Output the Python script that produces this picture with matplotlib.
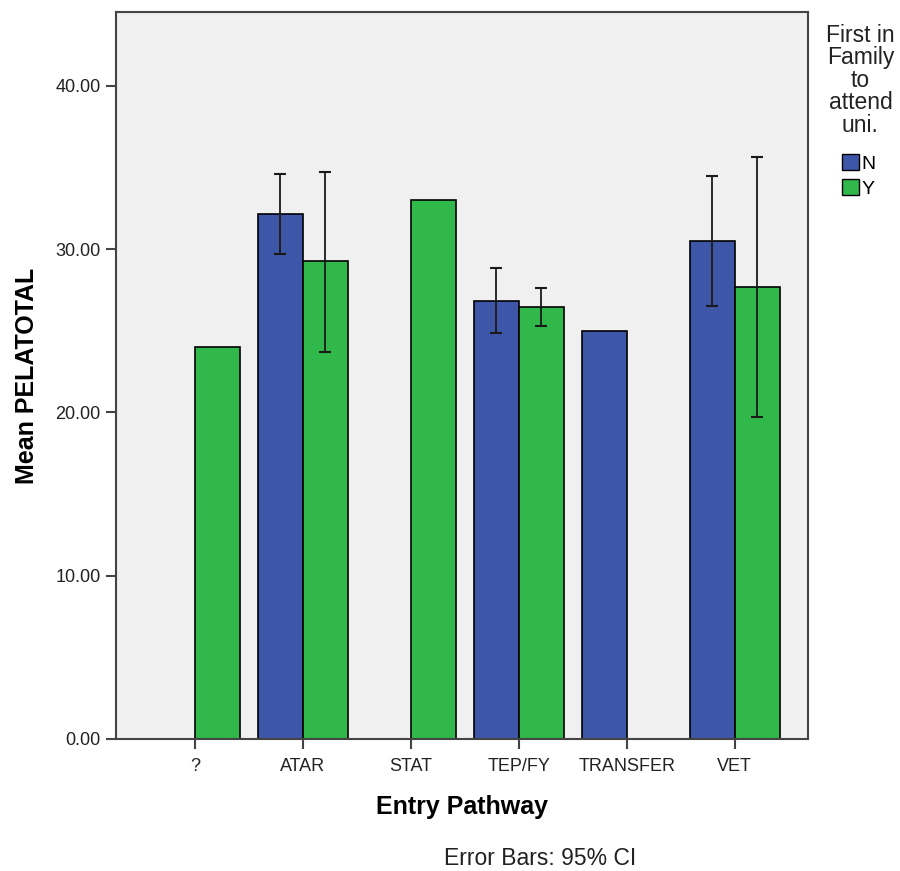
import numpy as np
import matplotlib.pyplot as plt
from matplotlib.patches import Patch

plt.rcParams['font.family'] = ['Liberation Sans', 'DejaVu Sans']

# Mean PELATOTAL by entry pathway, split by first in family (N / Y)
pathways = ['?', 'ATAR', 'STAT', 'TEP/FY', 'TRANSFER', 'VET']
mean_n = [np.nan, 32.17, np.nan, 26.83, 25.00, 30.52]
mean_y = [23.98, 29.24, 33.03, 26.46, np.nan, 27.70]

# 95% CI bounds (NaN where no interval shown)
ci_low_n = [np.nan, 29.70, np.nan, 24.85, np.nan, 26.50]
ci_high_n = [np.nan, 34.60, np.nan, 28.83, np.nan, 34.50]
ci_low_y = [np.nan, 23.69, np.nan, 25.30, np.nan, 19.69]
ci_high_y = [np.nan, 34.74, np.nan, 27.60, np.nan, 35.66]

blue = '#3d56a8'
green = '#30b84a'
width = 0.415

fig = plt.figure(figsize=(9, 8.71), dpi=100)
ax = fig.add_axes([0.129, 0.1516, 0.769, 0.8343])
ax.set_facecolor('#f0f0f0')

x = np.arange(len(pathways))
mn = np.array(mean_n)
my = np.array(mean_y)
ax.bar(x - width / 2, mn, width, color=blue, edgecolor='black', linewidth=1.2, zorder=2)
ax.bar(x + width / 2, my, width, color=green, edgecolor='black', linewidth=1.2, zorder=2)

lo_n, hi_n = np.array(ci_low_n), np.array(ci_high_n)
lo_y, hi_y = np.array(ci_low_y), np.array(ci_high_y)
ok = ~np.isnan(lo_n)
ax.errorbar(x[ok] - width / 2, mn[ok], yerr=[mn[ok] - lo_n[ok], hi_n[ok] - mn[ok]],
            fmt='none', ecolor='#1a1a1a', elinewidth=1.3, capsize=4, capthick=1.5, zorder=3)
ok = ~np.isnan(lo_y)
ax.errorbar(x[ok] + width / 2, my[ok], yerr=[my[ok] - lo_y[ok], hi_y[ok] - my[ok]],
            fmt='none', ecolor='#1a1a1a', elinewidth=1.3, capsize=4, capthick=1.5, zorder=3)

ax.set_xlim(-0.73, 5.68)
ax.set_ylim(0, 44.5)
ax.set_yticks([0, 10, 20, 30, 40])
ax.set_yticklabels(['%.2f' % v for v in [0, 10, 20, 30, 40]])
ax.set_xticks(x)
ax.set_xticklabels(pathways)
ax.tick_params(axis='both', direction='out', length=7, width=1.5, color='#444444',
               labelsize=13, labelcolor='#222222', pad=4)
ax.tick_params(axis='x', pad=7)

for s in ax.spines.values():
    s.set_color('#444444')
    s.set_linewidth(1.5)

ax.set_ylabel('Mean PELATOTAL', fontsize=18, fontweight='bold', labelpad=12)
ax.set_xlabel('Entry Pathway', fontsize=18, fontweight='bold', labelpad=14)

fig.text(0.60, 0.0149, 'Error Bars: 95% CI', fontsize=16.5, ha='center', va='center', color='#222222')

# legend title and entries outside the plot
fig.text(0.956, 0.973, 'First in\nFamily\nto\nattend\nuni.', fontsize=16.5, ha='center', va='top',
         linespacing=0.98, color='#222222')
handles = [Patch(facecolor=blue, edgecolor='black', label='N'),
           Patch(facecolor=green, edgecolor='black', label='Y')]
fig.legend(handles=handles, loc='upper left', bbox_to_anchor=(0.936, 0.823), frameon=False,
           fontsize=14, handlelength=0.85, handleheight=0.85, handletextpad=0.15,
           labelspacing=0.35, borderaxespad=0, borderpad=0)

fig.savefig('out.png', dpi=100)
